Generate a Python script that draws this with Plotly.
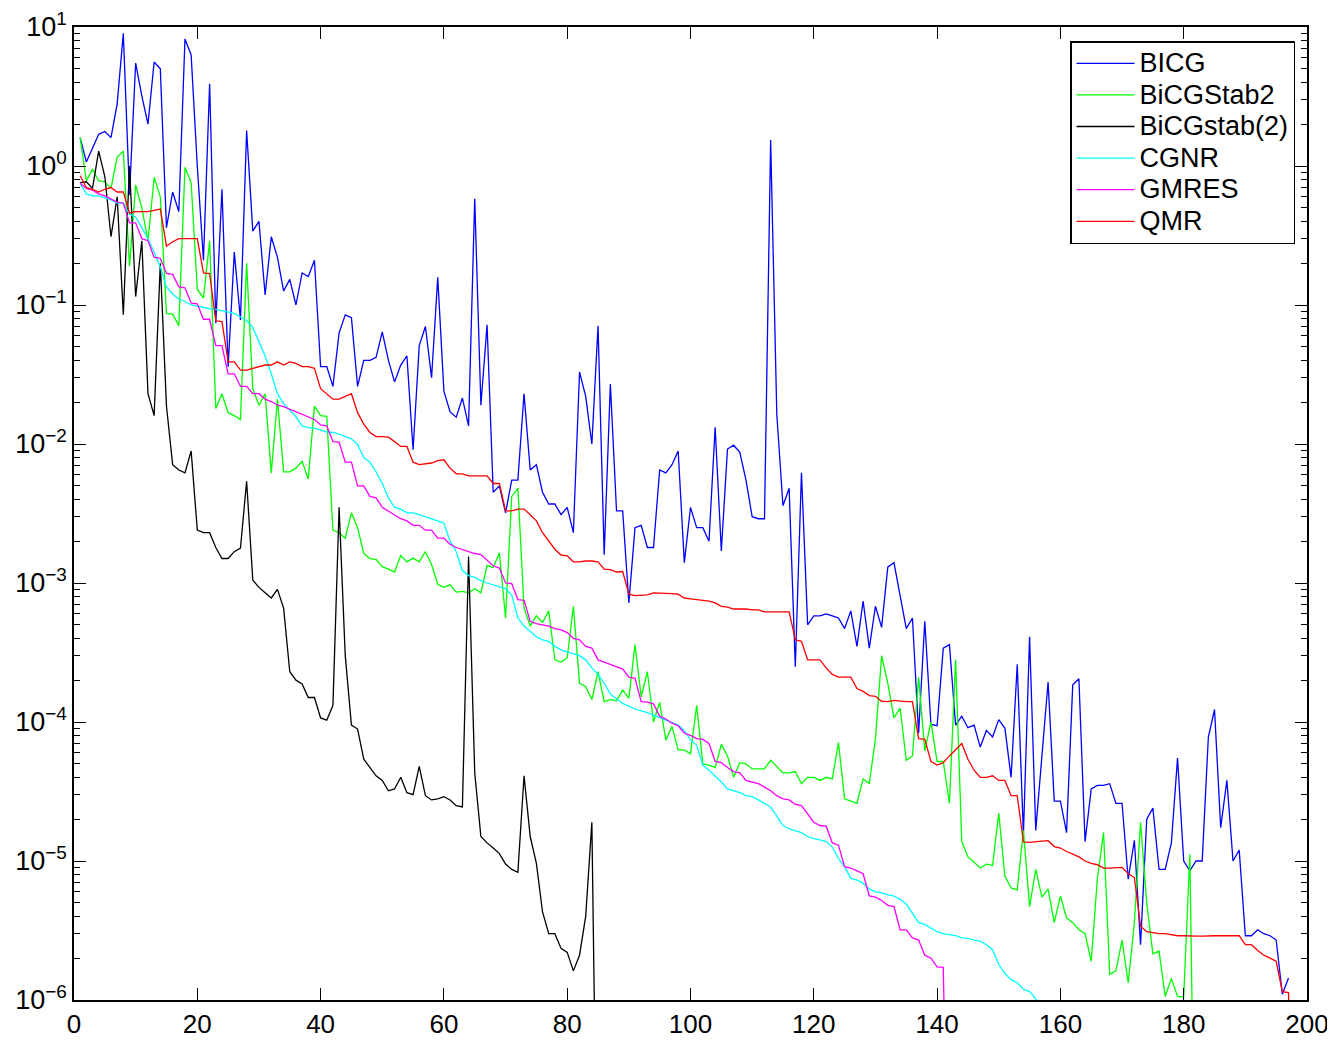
import plotly.graph_objects as go

# Residual norms per iteration (iteration index starts at 1)
bicg = [1.6, 1.07, 1.34, 1.69, 1.77, 1.6, 2.8, 9.0, 0.62, 5.5,
        3.2, 2.0, 5.6, 5.0, 0.36, 0.65, 0.47, 8.2, 6.3, 1.0,
        0.21, 3.9, 0.074, 0.68, 0.036, 0.24, 0.078, 1.8, 0.34, 0.40,
        0.118, 0.31, 0.22, 0.126, 0.153, 0.10, 0.17, 0.16, 0.21, 0.036,
        0.036, 0.026, 0.063, 0.085, 0.081, 0.026, 0.040, 0.040, 0.042, 0.064,
        0.040, 0.028, 0.037, 0.043, 0.0091, 0.051, 0.070, 0.030, 0.158, 0.024,
        0.017, 0.0156, 0.0214, 0.0135, 0.58, 0.019, 0.072, 0.0045, 0.005, 0.0032,
        0.0055, 0.0055, 0.023, 0.0065, 0.0071, 0.0045, 0.0037, 0.0037, 0.0031, 0.0035,
        0.0023, 0.033, 0.022, 0.0100, 0.071, 0.0016, 0.027, 0.0033, 0.0033, 0.00072,
        0.0025, 0.0026, 0.0018, 0.0018, 0.0065, 0.0062, 0.0071, 0.0089, 0.0014, 0.0035,
        0.0025, 0.0025, 0.0020, 0.0132, 0.0017, 0.0092, 0.0098, 0.0087, 0.0055, 0.0030,
        0.0029, 0.0029, 1.54, 0.0163, 0.0036, 0.0048, 0.00025, 0.0062, 0.0005, 0.00058,
        0.00058, 0.0006, 0.00058, 0.00056, 0.00047, 0.00063, 0.00035, 0.00074, 0.00034, 0.00068,
        0.00048, 0.0013, 0.0014, 0.00080, 0.00047, 0.00056, 8.3e-5, 0.00053, 9.6e-5, 9.4e-5,
        0.00034, 0.00036, 9.5e-5, 0.00011, 9.1e-5, 9.5e-5, 6.6e-5, 8.7e-5, 7.8e-5, 0.000104,
        9.0e-5, 4.0e-5, 0.00026, 1.55e-5, 0.00041, 1.66e-5, 5.6e-5, 0.000194, 2.7e-5, 2.7e-5,
        1.6e-5, 0.000185, 0.000205, 1.38e-5, 3.3e-5, 3.5e-5, 3.5e-5, 3.6e-5, 2.6e-5, 2.6e-5,
        7.4e-6, 1.41e-5, 2.5e-6, 2.0e-5, 2.4e-5, 8.7e-6, 8.7e-6, 1.35e-5, 5.5e-5, 1.0e-5,
        8.5e-6, 1.0e-5, 1.0e-5, 7.8e-5, 0.000123, 1.74e-5, 3.8e-5, 1.0e-5, 1.2e-5, 2.9e-6,
        2.9e-6, 3.2e-6, 3.0e-6, 2.9e-6, 2.7e-6, 1.1e-6, 1.44e-6]

bicgstab2 = [1.6, 0.78, 0.95, 0.78, 0.77, 0.69, 1.16, 1.28, 0.19, 0.73,
             0.50, 0.29, 0.83, 0.60, 0.087, 0.086, 0.071, 0.98, 0.76, 0.13,
             0.112, 0.29, 0.018, 0.023, 0.0168, 0.016, 0.015, 0.20, 0.025, 0.019,
             0.023, 0.0062, 0.021, 0.0063, 0.0063, 0.0067, 0.0075, 0.0056, 0.0187, 0.016,
             0.0158, 0.0024, 0.0023, 0.0021, 0.0032, 0.0025, 0.00163, 0.0015, 0.00148, 0.00131,
             0.00126, 0.0012, 0.00158, 0.00142, 0.00151, 0.00142, 0.00168, 0.00136, 0.00098, 0.00093,
             0.00097, 0.00086, 0.00087, 0.00085, 0.00091, 0.00085, 0.00134, 0.00129, 0.00165, 0.00056,
             0.0042, 0.0048, 0.00066, 0.00049, 0.00058, 0.00052, 0.00063, 0.00028, 0.00027, 0.00029,
             0.00068, 0.00019, 0.00018, 0.000145, 0.00023, 0.00014, 0.000145, 0.000142, 0.00017, 0.000148,
             0.00036, 0.000152, 0.00023, 0.0001, 0.000138, 7.4e-5, 9.3e-5, 6.3e-5, 6.3e-5, 5.9e-5,
             0.000132, 5.0e-5, 4.9e-5, 4.7e-5, 6.9e-5, 5.7e-5, 4.0e-5, 5.1e-5, 5.0e-5, 4.6e-5,
             4.6e-5, 4.6e-5, 5.3e-5, 4.8e-5, 4.3e-5, 4.3e-5, 4.4e-5, 3.6e-5, 4.0e-5, 4.0e-5,
             3.8e-5, 4.0e-5, 3.9e-5, 7.1e-5, 2.8e-5, 2.7e-5, 2.6e-5, 3.9e-5, 3.6e-5, 7.6e-5,
             0.0003, 0.00019, 0.000107, 0.000126, 5.3e-5, 5.7e-5, 0.00021, 6.2e-5, 0.0001, 5.2e-5,
             5.2e-5, 2.6e-5, 0.00028, 1.38e-5, 1.07e-5, 9.8e-6, 8.9e-6, 9.5e-6, 9.3e-6, 2.2e-5,
             7.8e-6, 6.4e-6, 6.2e-6, 1.66e-5, 4.7e-6, 8.7e-6, 5.5e-6, 6.3e-6, 3.6e-6, 5.6e-6,
             3.9e-6, 3.6e-6, 3.2e-6, 3.0e-6, 1.9e-6, 7.5e-6, 1.6e-5, 1.53e-6, 1.62e-6, 2.7e-6,
             1.33e-6, 3.6e-6, 1.9e-5, 5.0e-6, 2.15e-6, 2.25e-6, 1.06e-6, 1.43e-6, 1.06e-6, 1.05e-6,
             1.12e-5, 1e-8]

bicgstab_2 = [0.76, 0.77, 0.69, 1.28, 0.84, 0.31, 0.60, 0.085, 1.0, 0.115,
              0.29, 0.023, 0.016, 0.20, 0.0187, 0.0071, 0.0065, 0.0062, 0.0089, 0.0024,
              0.0023, 0.0023, 0.0018, 0.0015, 0.0015, 0.00168, 0.00178, 0.0054, 0.00105, 0.00093,
              0.00085, 0.00078, 0.0009, 0.00066, 0.00023, 0.0002, 0.000188, 0.00015, 0.00015, 0.000107,
              0.000103, 0.000132, 0.0035, 0.0003, 9.5e-5, 8.9e-5, 5.4e-5, 4.7e-5, 4.1e-5, 3.8e-5,
              3.2e-5, 3.3e-5, 4.0e-5, 3.1e-5, 3.0e-5, 4.8e-5, 2.95e-5, 2.75e-5, 2.8e-5, 2.9e-5,
              2.75e-5, 2.5e-5, 2.45e-5, 0.00155, 4.3e-5, 1.5e-5, 1.35e-5, 1.24e-5, 1.13e-5, 9.5e-6,
              8.7e-6, 8.3e-6, 4.1e-5, 1.5e-5, 9.6e-6, 4.3e-6, 3.0e-6, 3.0e-6, 2.35e-6, 2.2e-6,
              1.62e-6, 2.1e-6, 4.0e-6, 1.9e-5, 1e-8]

cgnr = [0.75, 0.63, 0.61, 0.61, 0.59, 0.57, 0.54, 0.54, 0.45, 0.43,
        0.36, 0.30, 0.24, 0.188, 0.135, 0.12, 0.11, 0.106, 0.10, 0.098,
        0.095, 0.094, 0.093, 0.091, 0.089, 0.087, 0.082, 0.077, 0.069, 0.055,
        0.043, 0.032, 0.023, 0.0195, 0.0174, 0.0157, 0.0135, 0.0131, 0.013, 0.0126,
        0.0122, 0.0121, 0.0118, 0.0113, 0.0109, 0.0099, 0.0080, 0.0074, 0.0063, 0.0052,
        0.0041, 0.0035, 0.0034, 0.0032, 0.0032, 0.0031, 0.0030, 0.0029, 0.0028, 0.0027,
        0.0020, 0.00168, 0.00123, 0.00113, 0.0011, 0.00104, 0.0010, 0.00097, 0.00094, 0.00091,
        0.00082, 0.00056, 0.00049, 0.00045, 0.00041, 0.00039, 0.00038, 0.00035, 0.00033, 0.00032,
        0.00031, 0.0003, 0.00028, 0.000245, 0.00022, 0.00019, 0.000159, 0.000148, 0.000136, 0.00013,
        0.000124, 0.00012, 0.000117, 0.000112, 0.000108, 0.000103, 9.9e-5, 9.5e-5, 8.7e-5, 7.4e-5,
        6.8e-5, 4.9e-5, 4.5e-5, 4.1e-5, 3.7e-5, 3.3e-5, 3.2e-5, 3.1e-5, 2.95e-5, 2.9e-5,
        2.75e-5, 2.6e-5, 2.45e-5, 2.1e-5, 1.8e-5, 1.7e-5, 1.65e-5, 1.6e-5, 1.5e-5, 1.45e-5,
        1.42e-5, 1.38e-5, 1.26e-5, 1.04e-5, 9.1e-6, 7.5e-6, 7.3e-6, 6.9e-6, 6.3e-6, 6.0e-6,
        5.9e-6, 5.7e-6, 5.6e-6, 5.3e-6, 4.9e-6, 4.2e-6, 3.6e-6, 3.5e-6, 3.3e-6, 3.1e-6,
        3.0e-6, 2.95e-6, 2.9e-6, 2.8e-6, 2.78e-6, 2.7e-6, 2.65e-6, 2.5e-6, 2.3e-6, 1.8e-6,
        1.55e-6, 1.4e-6, 1.33e-6, 1.2e-6, 1.15e-6, 1.02e-6, 8.5e-7]

gmres = [0.75, 0.69, 0.67, 0.63, 0.61, 0.58, 0.55, 0.54, 0.39, 0.39,
         0.30, 0.29, 0.22, 0.217, 0.169, 0.166, 0.135, 0.133, 0.103, 0.102,
         0.079, 0.079, 0.051, 0.051, 0.032, 0.032, 0.026, 0.026, 0.023, 0.023,
         0.021, 0.0202, 0.019, 0.0186, 0.0178, 0.0171, 0.0163, 0.0158, 0.015, 0.0137,
         0.0135, 0.0104, 0.0103, 0.0074, 0.0074, 0.0050, 0.0050, 0.0042, 0.0041, 0.0035,
         0.0033, 0.0031, 0.0029, 0.0028, 0.0026, 0.0026, 0.0024, 0.0024, 0.0021, 0.0021,
         0.0019, 0.0018, 0.00174, 0.00168, 0.00163, 0.0016, 0.00147, 0.00133, 0.00128, 0.0010,
         0.00099, 0.00076, 0.00075, 0.00053, 0.00051, 0.0005, 0.00049, 0.00047, 0.00046, 0.00044,
         0.0004, 0.00039, 0.00035, 0.00034, 0.00028, 0.00027, 0.00026, 0.00025, 0.00024, 0.00021,
         0.000206, 0.00014, 0.000139, 0.000135, 0.00011, 0.000105, 9.8e-5, 9.4e-5, 8.3e-5, 8.0e-5,
         7.6e-5, 7.5e-5, 7.0e-5, 5.2e-5, 5.1e-5, 4.7e-5, 4.4e-5, 4.3e-5, 3.8e-5, 3.7e-5,
         3.6e-5, 3.4e-5, 3.2e-5, 2.95e-5, 2.8e-5, 2.75e-5, 2.55e-5, 2.5e-5, 2.2e-5, 1.9e-5,
         1.8e-5, 1.78e-5, 1.35e-5, 1.3e-5, 9.1e-6, 8.9e-6, 8.5e-6, 8.1e-6, 5.6e-6, 5.5e-6,
         5.2e-6, 4.8e-6, 4.7e-6, 3.2e-6, 3.2e-6, 2.8e-6, 2.7e-6, 2.1e-6, 2.0e-6, 1.73e-6,
         1.72e-6, 1e-8]

qmr = [0.85, 0.70, 0.68, 0.65, 0.68, 0.70, 0.65, 0.65, 0.46, 0.47,
       0.47, 0.47, 0.48, 0.49, 0.265, 0.285, 0.30, 0.30, 0.30, 0.30,
       0.17, 0.168, 0.077, 0.076, 0.039, 0.039, 0.034, 0.034, 0.035, 0.036,
       0.037, 0.037, 0.039, 0.037, 0.039, 0.038, 0.036, 0.036, 0.035, 0.025,
       0.023, 0.021, 0.021, 0.022, 0.023, 0.0168, 0.0139, 0.0121, 0.0113, 0.0113,
       0.0112, 0.0104, 0.0096, 0.0096, 0.0074, 0.0071, 0.0072, 0.0073, 0.0076, 0.0077,
       0.0067, 0.0061, 0.0061, 0.0059, 0.0059, 0.0059, 0.0059, 0.0052, 0.0052, 0.0033,
       0.0033, 0.0034, 0.0034, 0.0031, 0.0028, 0.0023, 0.0020, 0.00175, 0.00159, 0.00157,
       0.00142, 0.00142, 0.00144, 0.00144, 0.00142, 0.00126, 0.00125, 0.0012, 0.00121, 0.00083,
       0.00081, 0.00081, 0.00082, 0.00085, 0.00085, 0.00085, 0.00084, 0.00083, 0.00078, 0.00077,
       0.00076, 0.00075, 0.00074, 0.00072, 0.00068, 0.00067, 0.00065, 0.00065, 0.00065, 0.00064,
       0.00064, 0.00062, 0.00062, 0.00062, 0.00062, 0.00062, 0.00039, 0.00038, 0.00028, 0.00028,
       0.00028, 0.000245, 0.00022, 0.00021, 0.00021, 0.00021, 0.000174, 0.000166, 0.000155, 0.000153,
       0.000141, 0.00014, 0.000143, 0.000141, 0.00014, 0.00014, 7.6e-5, 7.5e-5, 5.2e-5, 4.9e-5,
       5.1e-5, 5.7e-5, 6.3e-5, 7.0e-5, 5.4e-5, 4.5e-5, 4.0e-5, 4.0e-5, 4.1e-5, 3.8e-5,
       3.8e-5, 2.95e-5, 2.95e-5, 1.37e-5, 1.36e-5, 1.38e-5, 1.39e-5, 1.4e-5, 1.27e-5, 1.24e-5,
       1.17e-5, 1.12e-5, 1.07e-5, 1.0e-5, 9.6e-6, 9.4e-6, 8.9e-6, 8.9e-6, 9.0e-6, 9.0e-6,
       8.1e-6, 7.6e-6, 3.4e-6, 3.1e-6, 3.05e-6, 3.0e-6, 3.0e-6, 2.95e-6, 2.9e-6, 2.9e-6,
       2.88e-6, 2.88e-6, 2.88e-6, 2.9e-6, 2.9e-6, 2.9e-6, 2.9e-6, 2.9e-6, 2.9e-6, 2.5e-6,
       2.5e-6, 2.27e-6, 2.1e-6, 2.0e-6, 1.9e-6, 1.15e-6, 1.13e-6, 1e-8]

series_names = ["BICG", "BiCGStab2", "BiCGstab(2)", "CGNR", "GMRES", "QMR"]
series_values = [bicg, bicgstab2, bicgstab_2, cgnr, gmres, qmr]
series_colors = ["#0000ff", "#00ff00", "#000000", "#00ffff", "#ff00ff", "#ff0000"]

x_ticks = [0, 20, 40, 60, 80, 100, 120, 140, 160, 180, 200]
y_tickvals = [1e-6, 1e-5, 1e-4, 1e-3, 1e-2, 1e-1, 1e0, 1e1]
y_ticktext = ["10<sup>\u22126</sup>", "10<sup>\u22125</sup>", "10<sup>\u22124</sup>",
              "10<sup>\u22123</sup>", "10<sup>\u22122</sup>", "10<sup>\u22121</sup>",
              "10<sup>0</sup>", "10<sup>1</sup>"]

fig = go.Figure()
for name, vals, col in zip(series_names, series_values, series_colors):
    fig.add_trace(go.Scatter(
        x=list(range(1, len(vals) + 1)), y=vals, mode="lines",
        name="<span style='font-size:27px'>" + name + "</span>",
        line=dict(color=col, width=1.3)))

FONT = "Liberation Sans, Arial, Helvetica, sans-serif"
# The page body has an 8px margin, so the figure is sized/offset to compensate.
fig.update_layout(
    width=1327, height=1032,
    margin=dict(l=66, r=28, t=19, b=40, autoexpand=False),
    plot_bgcolor="white", paper_bgcolor="white",
    font=dict(family=FONT, size=26, color="black"),
    legend=dict(x=0.9903, y=0.9856, xanchor="right", yanchor="top",
                bgcolor="white", bordercolor="black", borderwidth=1.5,
                font=dict(family=FONT, size=22, color="black"),
                itemwidth=58, tracegroupgap=0),
    showlegend=True,
)
fig.update_xaxes(
    range=[0, 200], tickvals=x_ticks, ticks="inside", ticklen=12, tickwidth=1.2,
    tickcolor="black", showline=True, linecolor="black", linewidth=1.5,
    mirror="ticks", showgrid=False, zeroline=False, automargin=False,
    tickfont=dict(family=FONT, size=26, color="black"))
fig.update_yaxes(
    type="log", range=[-6, 1], tickvals=y_tickvals, ticktext=y_ticktext,
    ticks="inside", ticklen=12, tickwidth=1.2, tickcolor="black",
    showline=True, linecolor="black", linewidth=1.5, mirror="ticks",
    showgrid=False, zeroline=False, automargin=False,
    minor=dict(ticks="inside", ticklen=6, tickwidth=1.2, tickcolor="black",
               dtick="D1", showgrid=False),
    tickfont=dict(family=FONT, size=27, color="black"))

fig.write_html("out.html")
